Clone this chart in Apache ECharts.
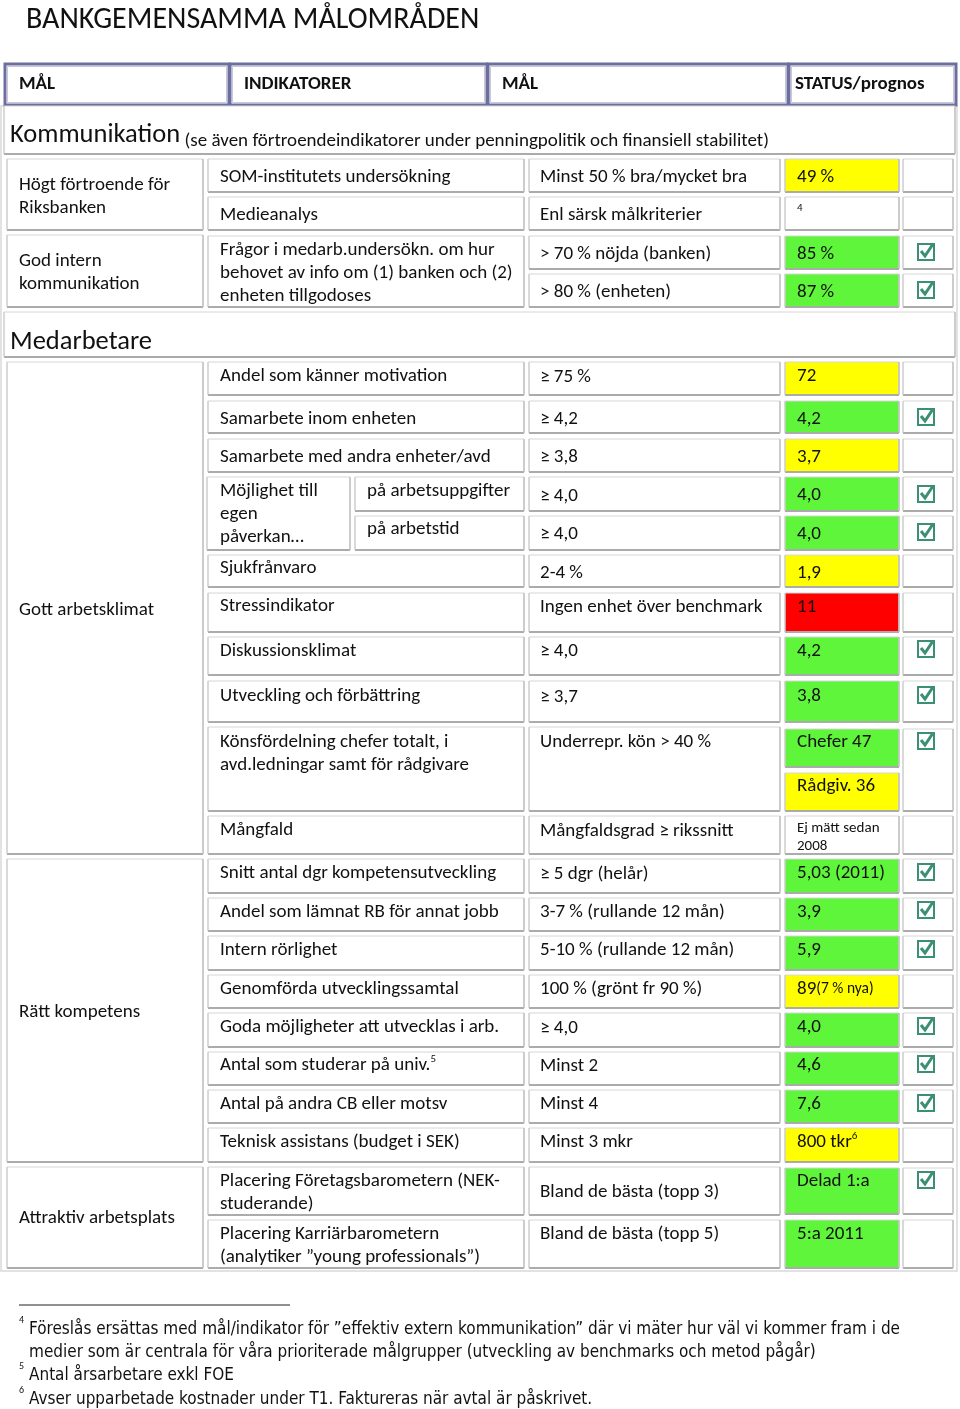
<!DOCTYPE html>
<html><head><meta charset="utf-8">
<script src="https://cdn.jsdelivr.net/npm/echarts@6/dist/echarts.min.js"></script>
<style>html,body{margin:0;padding:0;background:#fff}#c{width:960px;height:1409px}</style>
</head><body><div id="c"></div>
<script>
// ================= DATA =================
const title = 'BANKGEMENSAMMA MÅLOMRÅDEN';
const headers = ['MÅL', 'INDIKATORER', 'MÅL', 'STATUS/prognos'];
const sections = ['Kommunikation', 'Medarbetare'];
const sectionNote = '(se även förtroendeindikatorer under penningpolitik och finansiell stabilitet)';
const goals = ['Högt förtroende för\nRiksbanken', 'God intern\nkommunikation', 'Gott arbetsklimat', 'Rätt kompetens', 'Attraktiv arbetsplats'];
const indicators = [
  'SOM-institutets undersökning', 'Medieanalys',
  'Frågor i medarb.undersökn. om hur\nbehovet av info om (1) banken och (2)\nenheten tillgodoses',
  'Andel som känner motivation', 'Samarbete inom enheten', 'Samarbete med andra enheter/avd',
  'Möjlighet till\negen\npåverkan…', 'på arbetsuppgifter', 'på arbetstid',
  'Sjukfrånvaro', 'Stressindikator', 'Diskussionsklimat', 'Utveckling och förbättring',
  'Könsfördelning chefer totalt, i\navd.ledningar samt för rådgivare', 'Mångfald',
  'Snitt antal dgr kompetensutveckling', 'Andel som lämnat RB för annat jobb', 'Intern rörlighet',
  'Genomförda utvecklingssamtal', 'Goda möjligheter att utvecklas i arb.', 'Antal som studerar på univ.{sup|5}',
  'Antal på andra CB eller motsv', 'Teknisk assistans (budget i SEK)',
  'Placering Företagsbarometern (NEK-\nstuderande)', 'Placering Karriärbarometern\n(analytiker ”young professionals”)'
];
const targets = [
  'Minst 50 % bra/mycket bra', 'Enl särsk målkriterier', '> 70 % nöjda (banken)', '> 80 % (enheten)',
  '≥ 75 %', '≥ 4,2', '≥ 3,8', '≥ 4,0', '≥ 4,0', '2-4 %', 'Ingen enhet över benchmark', '≥ 4,0', '≥ 3,7',
  'Underrepr. kön > 40 %', 'Mångfaldsgrad ≥ rikssnitt', '≥ 5 dgr (helår)', '3-7 % (rullande 12 mån)',
  '5-10 % (rullande 12 mån)', '100 % (grönt fr 90 %)', '≥ 4,0', 'Minst 2', 'Minst 4', 'Minst 3 mkr',
  'Bland de bästa (topp 3)', 'Bland de bästa (topp 5)'
];
const statusText = [
  '49 %', '{sup|4}', '85 %', '87 %', '72', '4,2', '3,7', '4,0', '4,0', '1,9', '11', '4,2', '3,8',
  'Chefer 47', 'Rådgiv. 36', '{sm2|Ej mätt sedan\n2008}', '5,03 (2011)', '3,9', '5,9', '89{sm|(7 % nya)}',
  '4,0', '4,6', '7,6', '800 tkr{sup|6}', 'Delad 1:a', '5:a 2011'
];
const statusLevel = ['Y', '-', 'G', 'G', 'Y', 'G', 'Y', 'G', 'G', 'Y', 'R', 'G', 'G',
  'G', 'Y', '-', 'G', 'G', 'G', 'Y', 'G', 'G', 'G', 'Y', 'G', 'G'];
const checks = [0, 0, 1, 1, 0, 1, 0, 1, 1, 0, 0, 1, 1, 1, 0, 1, 1, 1, 0, 1, 1, 1, 0, 1, 0];
const footnoteMarks = ['4', '5', '6'];
const footnotes = [
  'Föreslås ersättas med mål/indikator för ”effektiv extern kommunikation” där vi mäter hur väl vi kommer fram i de\nmedier som är centrala för våra prioriterade målgrupper (utveckling av benchmarks och metod pågår)',
  'Antal årsarbetare exkl FOE',
  'Avser upparbetade kostnader under T1. Faktureras när avtal är påskrivet.'
];

// ================= LAYOUT / STYLE =================
const FONT = 'Carlito, Lato, "Open Sans", sans-serif';
const FN_FONT = '"Liberation Sans Narrow", "DejaVu Sans Condensed", "DejaVu Sans", sans-serif';
const LEVEL_COLOR = { Y: '#ffff00', G: '#5ff53b', R: '#ff0000', '-': '#ffffff' };
const HEADER_COLOR = '#6d6e9f';
const CHECK_COLOR = '#3b8f74';
const X = { frame: [1, 957], sec: [4, 955], c1: [7, 203], c2: [208, 524], c2a: [207, 350], c2b: [355, 524], c3: [529, 780], c4: [785, 899], c5: [903, 953] };
const headerX = [[5, 229], [230, 487], [488, 788], [789, 956]];
const headerTextX = [19, 244, 502, 795];
const headerY = [64, 105];
const sectionY = [[106, 154, 134], [312, 357, 341]];
const goalLayout = [[159, 230, 184], [235, 307, 260], [362, 854, 609], [859, 1162, 1011], [1167, 1268, 1217]];
const indicatorLayout = [
  ['c2', 159, 192, 176], ['c2', 197, 230, 214], ['c2', 236, 307, 249], ['c2', 362, 395, 375], ['c2', 401, 433, 418],
  ['c2', 439, 472, 456], ['c2a', 477, 550, 490], ['c2b', 477, 511, 490], ['c2b', 516, 550, 528], ['c2', 555, 587, 567],
  ['c2', 593, 632, 605], ['c2', 637, 675, 650], ['c2', 681, 722, 695], ['c2', 727, 811, 741], ['c2', 816, 854, 829],
  ['c2', 859, 893, 872], ['c2', 898, 931, 911], ['c2', 936, 970, 949], ['c2', 975, 1008, 988], ['c2', 1013, 1047, 1026],
  ['c2', 1052, 1085, 1064], ['c2', 1090, 1123, 1103], ['c2', 1128, 1162, 1141], ['c2', 1167, 1215, 1180], ['c2', 1220, 1268, 1233]
];
const targetLayout = [
  [159, 192, 176], [197, 230, 214], [236, 269, 253], [274, 307, 291], [362, 395, 376], [401, 433, 418], [439, 472, 456],
  [477, 511, 495], [516, 550, 533], [555, 587, 572], [593, 632, 606], [637, 675, 650], [681, 722, 696], [727, 811, 741],
  [816, 854, 830], [859, 893, 873], [898, 931, 911], [936, 970, 949], [975, 1008, 988], [1013, 1047, 1027],
  [1052, 1085, 1065], [1090, 1123, 1103], [1128, 1162, 1141], [1167, 1215, 1191], [1220, 1268, 1233]
];
const statusLayout = [
  [159, 192, 176], [197, 230, 207], [236, 269, 253], [274, 307, 291], [362, 395, 375], [401, 433, 418], [439, 472, 456],
  [477, 511, 494], [516, 550, 533], [555, 587, 572], [593, 632, 606], [637, 675, 650], [681, 722, 695], [729, 767, 741],
  [773, 811, 785], [816, 854, 827], [859, 893, 872], [898, 931, 911], [936, 970, 949], [975, 1008, 988], [1013, 1047, 1026],
  [1052, 1085, 1064], [1090, 1123, 1103], [1128, 1162, 1141], [1168, 1214, 1180], [1220, 1268, 1233]
];
const checkLayout = [
  [159, 192, 176], [197, 230, 214], [236, 269, 252], [274, 307, 290], [362, 395, 375], [401, 433, 417], [439, 472, 456],
  [477, 511, 494], [516, 550, 532], [555, 587, 571], [593, 632, 606], [637, 675, 649], [681, 722, 695], [729, 811, 741],
  [816, 854, 829], [859, 893, 872], [898, 931, 910], [936, 970, 949], [975, 1008, 988], [1013, 1047, 1026],
  [1052, 1085, 1064], [1090, 1123, 1103], [1128, 1162, 1141], [1168, 1214, 1180], [1220, 1268, 1233]
];
const footLayout = { ruleY: 1305, ruleX: [19, 290], markX: 19, textX: 29, firstLineY: [1329, 1375, 1399], markY: [1320, 1366, 1390], width0: 871 };
const PAD = 12, FS = 19, LH = 23, TY_SHIFT = 1.5, FN_FS = 18.5;

const RICH = {
  sup: { fontFamily: FONT, fontSize: 11, lineHeight: 12, verticalAlign: 'top', fill: '#111' },
  sm: { fontFamily: FONT, fontSize: 15.5, lineHeight: 23, fill: '#111' },
  sm2: { fontFamily: FONT, fontSize: 15, lineHeight: 18, fill: '#111' },
  big: { fontFamily: FONT, fontSize: 26.5, lineHeight: 30, fill: '#111' },
  note: { fontFamily: FONT, fontSize: 19, lineHeight: 27, verticalAlign: 'bottom', fill: '#111' }
};

// ================= BUILD CELLS =================
const cells = [];
function txt(t, x, y, o) { return Object.assign({ t: t, x: x, y: y, fs: FS, lh: LH }, o || {}); }
cells.push({ kind: 'frame', x0: X.frame[0], x1: X.frame[1], y0: 106, y1: 1271 });
headers.forEach((h, i) => cells.push({ kind: 'header', x0: headerX[i][0], x1: headerX[i][1], y0: headerY[0], y1: headerY[1],
  texts: [txt(h, headerTextX[i], 83, { fw: 'bold' })] }));
sections.forEach((s, i) => cells.push({ kind: 'cell', x0: X.sec[0], x1: X.sec[1], y0: sectionY[i][0], y1: sectionY[i][1],
  texts: [txt(i === 0 ? '{big|' + s + '} {note|' + sectionNote + '}' : '{big|' + s + '}', X.sec[0] + 6, sectionY[i][2], { lh: 30 })] }));
goals.forEach((g, i) => { const L = goalLayout[i];
  cells.push({ kind: 'cell', x0: X.c1[0], x1: X.c1[1], y0: L[0], y1: L[1], texts: [txt(g, X.c1[0] + PAD, L[2])] }); });
indicators.forEach((t, i) => { const L = indicatorLayout[i]; const xr = X[L[0]];
  cells.push({ kind: 'cell', x0: xr[0], x1: xr[1], y0: L[1], y1: L[2], texts: [txt(t, xr[0] + PAD + (L[0] === 'c2a' ? 1 : 0), L[3])] }); });
targets.forEach((t, i) => { const L = targetLayout[i];
  cells.push({ kind: 'cell', x0: X.c3[0], x1: X.c3[1], y0: L[0], y1: L[1], texts: [txt(t, X.c3[0] + 11, L[2])] }); });
statusText.forEach((t, i) => { const L = statusLayout[i];
  cells.push({ kind: 'cell', fill: LEVEL_COLOR[statusLevel[i]], x0: X.c4[0], x1: X.c4[1], y0: L[0], y1: L[1],
    texts: [txt(t, X.c4[0] + PAD, L[2], t.indexOf('sm2') >= 0 ? { lh: 18 } : (t.indexOf('{sup|4}') === 0 ? { lh: 12 } : {}))] }); });
checks.forEach((c, i) => { const L = checkLayout[i];
  cells.push({ kind: 'cell', x0: X.c5[0], x1: X.c5[1], y0: L[0], y1: L[1], check: c ? L[2] : null, texts: [] }); });
// footnotes
cells.push({ kind: 'rule', x0: footLayout.ruleX[0], x1: footLayout.ruleX[1], y0: footLayout.ruleY, y1: footLayout.ruleY });
footnotes.forEach((f, i) => {
  cells.push({ kind: 'text', x0: footLayout.textX, x1: footLayout.textX, y0: footLayout.firstLineY[i], y1: footLayout.firstLineY[i],
    texts: [txt(f, footLayout.textX, footLayout.firstLineY[i], { fs: FN_FS, font: FN_FONT, fit: true, noShift: true }),
            txt(footnoteMarks[i], footLayout.markX, footLayout.markY[i], { fs: 10, lh: 12, noShift: true })] });
});

// condensing scale for footnotes so that the first line matches the source width
const mctx = document.createElement('canvas').getContext('2d');
mctx.font = FN_FS + 'px ' + FN_FONT;
const fnScale = footLayout.width0 / mctx.measureText(footnotes[0].split('\n')[0]).width;

// ================= RENDER =================
function renderItem(params, api) {
  const c = cells[api.value(4)];
  const p0 = api.coord([api.value(0), api.value(1)]);
  const p1 = api.coord([api.value(2), api.value(3)]);
  const w = p1[0] - p0[0], h = p1[1] - p0[1];
  const ch = [];
  if (c.kind === 'frame') {
    ch.push({ type: 'rect', shape: { x: p0[0], y: p0[1], width: w, height: h }, style: { fill: 'none', stroke: '#d9d9d9', lineWidth: 1.5 } });
  } else if (c.kind === 'header') {
    ch.push({ type: 'rect', shape: { x: p0[0], y: p0[1], width: w, height: h }, style: { fill: '#fff', stroke: HEADER_COLOR, lineWidth: 3 } });
    ch.push({ type: 'rect', shape: { x: p0[0] + 2.5, y: p0[1] + 2.5, width: w - 5, height: h - 5 }, style: { fill: 'none', stroke: '#c9c9d6', lineWidth: 1 } });
  } else if (c.kind === 'cell') {
    ch.push({ type: 'rect', shape: { x: p0[0], y: p0[1], width: w, height: h }, style: { fill: c.fill || '#fff', stroke: '#d6d6d6', lineWidth: 1 } });
    ch.push({ type: 'line', shape: { x1: p0[0], y1: p1[1], x2: p1[0], y2: p1[1] }, style: { stroke: '#ababab', lineWidth: 2 } });
    ch.push({ type: 'line', shape: { x1: p1[0], y1: p0[1], x2: p1[0], y2: p1[1] }, style: { stroke: '#c2c2c2', lineWidth: 1.5 } });
    ch.push({ type: 'line', shape: { x1: p0[0], y1: p0[1], x2: p0[0], y2: p1[1] }, style: { stroke: '#c8c8c8', lineWidth: 1 } });
  } else if (c.kind === 'rule') {
    ch.push({ type: 'line', shape: { x1: p0[0], y1: p0[1], x2: p1[0], y2: p1[1] }, style: { stroke: '#222', lineWidth: 1 } });
  }
  if (c.check != null) {
    const cc = api.coord([(c.x0 + c.x1) / 2, c.check]);
    const cx = cc[0] - 2, cy = cc[1];
    ch.push({ type: 'rect', shape: { x: cx - 8, y: cy - 8, width: 16, height: 16 }, style: { fill: '#fff', stroke: CHECK_COLOR, lineWidth: 2 } });
    ch.push({ type: 'polyline', shape: { points: [[cx - 5, cy - 1], [cx - 1, cy + 4], [cx + 7, cy - 8]] }, style: { fill: 'none', stroke: CHECK_COLOR, lineWidth: 3 } });
  }
  (c.texts || []).forEach(t => {
    const tp = api.coord([t.x, t.y + (t.noShift ? 0 : TY_SHIFT)]);
    const el = { type: 'text', x: tp[0], y: tp[1] - t.lh / 2,
      style: { text: t.t, fontFamily: t.font || FONT, fontSize: t.fs, fontWeight: t.fw || 'normal', fill: '#111',
        lineHeight: t.lh, align: 'left', verticalAlign: 'top', rich: RICH } };
    if (t.fit) { el.scaleX = fnScale; el.originX = 0; el.originY = 0; }
    ch.push(el);
  });
  return { type: 'group', children: ch };
}

const chart = echarts.init(document.getElementById('c'), null, { renderer: 'canvas', width: 960, height: 1409 });
chart.setOption({
  animation: false,
  backgroundColor: '#fff',
  title: { text: title, left: 26, top: 5, padding: 0, textStyle: { fontFamily: FONT, fontSize: 30, fontWeight: 'normal', color: '#111' } },
  grid: { left: 0, right: 0, top: 0, bottom: 0 },
  xAxis: { type: 'value', min: 0, max: 960, show: false },
  yAxis: { type: 'value', min: 0, max: 1409, inverse: true, show: false },
  series: [{
    type: 'custom', renderItem: renderItem, clip: false, silent: true,
    data: cells.map((c, i) => [c.x0, c.y0, c.x1, c.y1, i])
  }]
});
</script></body></html>
